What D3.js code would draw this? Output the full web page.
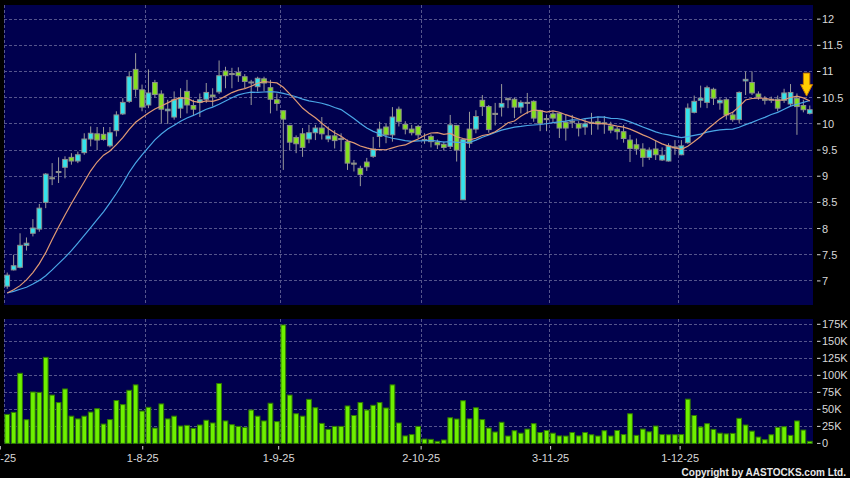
<!DOCTYPE html>
<html>
<head>
<meta http-equiv="Content-type" content="text/html; charset=utf-8">
<title>Daily candlestick chart</title>
<script type="text/javascript" src="https://cdn.jsdelivr.net/npm/d3@7"></script>
<style type="text/css">
  body { margin: 0; background: #000; }
  svg text { font-family: "Liberation Sans", Arial, sans-serif; }
</style>
</head>
<body>
<div id="chart"></div>
<script type="text/javascript">
// daily sessions, 2-7-25 .. 31-12-25 (126 bars)
var opens = [6.90,7.21,7.26,7.68,7.91,7.99,8.50,8.97,9.07,9.17,
  9.36,9.29,9.45,9.71,9.81,9.80,9.58,9.87,10.19,10.43,
  11.04,10.65,10.36,10.79,10.57,10.25,10.13,10.30,10.62,10.35,
  10.41,10.47,10.55,10.61,11.01,10.96,10.98,10.90,10.80,10.71,
  10.86,10.69,10.46,10.25,9.97,9.74,9.81,9.71,9.83,9.92,
  9.71,9.77,9.72,9.66,9.25,9.15,9.27,9.38,9.76,9.94,
  9.79,10.28,9.99,9.90,9.95,9.70,9.76,9.65,9.61,9.57,
  9.97,8.55,9.90,9.90,10.45,10.33,10.20,10.32,10.48,10.47,
  10.32,10.41,10.43,10.25,10.10,10.19,10.20,10.03,10.05,10.00,
  9.94,10.02,10.04,10.02,9.96,9.90,9.85,9.69,9.60,9.52,
  9.36,9.52,9.31,9.29,9.56,9.41,9.64,10.22,10.45,10.41,
  10.66,10.40,10.46,10.17,10.08,10.82,10.79,10.57,10.47,10.47,
  10.47,10.45,10.38,10.49,10.35,10.20];
var highs = [7.16,7.50,7.91,7.83,8.18,8.47,9.06,9.25,9.36,9.38,
  9.44,9.47,9.82,9.95,9.94,9.94,9.94,10.24,10.49,11.00,
  11.35,10.75,11.04,10.84,10.64,10.46,10.62,10.68,10.84,10.46,
  10.58,10.78,10.68,11.21,11.09,11.07,11.08,10.95,10.84,10.90,
  10.90,10.84,10.58,10.26,9.98,9.78,9.92,9.98,9.98,10.13,
  9.95,9.88,9.82,9.70,9.31,9.20,9.35,9.75,10.04,10.00,
  10.32,10.33,10.05,9.98,9.98,9.82,9.80,9.70,9.66,10.17,
  9.98,9.72,10.23,10.26,10.55,10.36,10.40,10.76,10.50,10.50,
  10.45,10.59,10.45,10.27,10.18,10.23,10.21,10.17,10.17,10.05,
  10.09,10.21,10.14,10.15,10.04,9.94,9.98,9.79,9.72,9.63,
  9.55,9.69,9.55,9.63,9.69,9.69,10.39,10.54,10.73,10.73,
  10.69,10.49,10.49,10.23,10.62,11.00,11.00,10.62,10.53,10.52,
  10.54,10.67,10.76,10.58,10.46,10.35];
var lows = [6.85,7.20,7.24,7.58,7.85,7.94,8.39,8.83,8.87,8.96,
  9.22,9.25,9.41,9.57,9.50,9.68,9.55,9.76,10.17,10.40,
  10.52,10.24,10.30,10.50,10.01,10.00,10.08,10.11,10.20,10.15,
  10.13,10.40,10.33,10.57,10.68,10.68,10.80,10.68,10.36,10.62,
  10.62,10.20,10.25,9.12,9.50,9.44,9.37,9.63,9.69,9.70,
  9.65,9.53,9.47,9.12,9.09,8.81,9.10,9.35,9.55,9.63,
  9.66,9.95,9.80,9.78,9.72,9.62,9.55,9.52,9.49,9.52,
  9.28,8.55,9.54,9.82,10.15,9.83,9.97,10.14,10.30,10.11,
  10.20,10.19,10.04,9.86,9.86,10.01,9.73,9.68,9.92,9.76,
  9.79,9.79,9.89,9.81,9.82,9.70,9.64,9.27,9.41,9.18,
  9.31,9.31,9.29,9.28,9.41,9.40,9.62,10.20,10.31,10.30,
  10.36,10.27,10.08,10.04,10.01,10.55,10.55,10.46,10.37,10.40,
  10.24,10.40,10.34,9.79,10.22,10.18];
var closes = [7.11,7.29,7.68,7.72,8.01,8.39,9.04,8.95,9.09,9.32,
  9.29,9.41,9.71,9.82,9.69,9.70,9.83,10.17,10.41,10.90,
  10.66,10.32,10.59,10.56,10.28,10.28,10.46,10.50,10.36,10.28,
  10.46,10.60,10.52,10.92,10.92,10.95,10.92,10.81,10.79,10.87,
  10.78,10.47,10.39,10.09,9.65,9.62,9.55,9.83,9.92,9.81,
  9.77,9.68,9.70,9.25,9.23,9.03,9.18,9.52,9.90,9.79,
  10.13,10.04,9.90,9.83,9.79,9.69,9.66,9.60,9.55,9.98,
  9.50,9.70,9.63,10.14,10.33,9.89,10.18,10.39,10.47,10.32,
  10.41,10.40,10.11,10.01,10.08,10.11,9.92,9.92,10.04,9.92,
  10.00,10.03,10.00,10.01,9.88,9.85,9.72,9.53,9.52,9.36,
  9.50,9.41,9.40,9.58,9.54,9.58,10.30,10.43,10.49,10.69,
  10.49,10.45,10.17,10.08,10.60,10.85,10.59,10.51,10.46,10.45,
  10.30,10.59,10.60,10.33,10.27,10.27];
// volume in thousands
var volumes = [42.6,45.6,103,34.8,75.5,75,126.4,71,60,80,
  40,36,40,46,51,28.4,35,63,57,78,
  86,47.5,53,22.5,58,36,40,25.5,26.5,22,
  27,34,30,88,33,27.5,25,23.5,49,40,
  33,59,32,174,71,43.6,40,64.7,52.4,29.4,
  20.6,25,25,55,41,60,49,56,60,52,
  86,30,11,13,25,6.4,5.9,3,5,37.7,
  35.8,62.7,36,52.4,35,22.5,16.7,31,10.8,18.6,
  15,21,29,16,19,15,11,10.8,16,11,
  16,12.7,10.8,18.6,10.8,19,13,43.6,11.8,21,
  17,25.5,13,12.7,12.7,13,65,41,24,29,
  20.6,15,14,14.7,36.8,27,18,9.3,5.4,12.7,
  23.5,24.5,11.8,33,19.6,3];

// moving averages: first values (need closes from before the window)
var ma10Head = [6.77,6.83,6.91,7.02,7.16,7.33,7.54,7.79,8.03];
var ma20Head = [6.77,6.80,6.84,6.88,6.94,7.01,7.10,7.21,7.33,7.45,
  7.58,7.72,7.87,8.02,8.17,8.32,8.49,8.67,8.86];

var dateLabels = ["2-7-25","1-8-25","1-9-25","2-10-25","3-11-25","1-12-25"];
var dateLabelIdx = [0,22,43,65,85,105];
var priceTicks = [7,7.5,8,8.5,9,9.5,10,10.5,11,11.5,12];
var volTicks = [0,25,50,75,100,125,150,175];
var arrowPrice = 10.53;

var width = 850, height = 478;
var left = 4, right = 813;
var priceTop = 5, priceBottom = 305;
var volTop = 319, volBottom = 444;

var svg = d3.select('#chart').append('svg')
  .attr('width', width).attr('height', height);
svg.append('rect').attr('width', width).attr('height', height).attr('fill', '#000');

var idx = d3.range(closes.length);
var x = d3.scaleBand().domain(idx).range([left, right])
  .paddingInner(0.27).paddingOuter(0.135);
var bw = x.bandwidth();
var cx = function(i) { return x(i) + bw / 2; };
var slot = function(i) { return x(i) - x.step() * x.paddingInner() / 2; };
// the date labels sit on their own, slightly shifted, scale in the original
var xLabel = d3.scaleLinear().domain([0, closes.length - 1]).range([0.3, 809.6]);

var y = d3.scaleLinear().domain([6.54, 12.27]).range([priceBottom, priceTop]);
var yv = d3.scaleLinear().domain([0, 182.8]).range([443.4, volTop]);

function sma(period, head) {
  return closes.map(function(c, i) {
    if (i < period - 1) return head[i];
    return d3.mean(closes.slice(i - period + 1, i + 1));
  });
}
var ma10 = sma(10, ma10Head);
var ma20 = sma(20, ma20Head);

var navy = '#00004e';
var gridColor = '#55558c';
var labelColor = '#d8d8d8';

// panels
svg.append('rect').attr('x', left).attr('y', priceTop)
  .attr('width', right - left).attr('height', priceBottom - priceTop).attr('fill', navy);
svg.append('rect').attr('x', left).attr('y', volTop)
  .attr('width', right - left).attr('height', volBottom - volTop).attr('fill', navy);

// grid
var grid = svg.append('g').attr('stroke', gridColor).attr('stroke-dasharray', '3,2')
  .attr('stroke-width', 1).attr('shape-rendering', 'crispEdges');
grid.selectAll('.hp').data(priceTicks).enter().append('line')
  .attr('x1', left).attr('x2', right)
  .attr('y1', function(d) { return y(d); }).attr('y2', function(d) { return y(d); });
grid.selectAll('.hv').data(volTicks.slice(1)).enter().append('line')
  .attr('x1', left).attr('x2', right)
  .attr('y1', function(d) { return yv(d); }).attr('y2', function(d) { return yv(d); });
grid.selectAll('.vp').data(dateLabelIdx).enter().append('line')
  .attr('x1', function(d) { return slot(d); }).attr('x2', function(d) { return slot(d); })
  .attr('y1', priceTop).attr('y2', priceBottom);
grid.selectAll('.vv').data(dateLabelIdx).enter().append('line')
  .attr('x1', function(d) { return slot(d); }).attr('x2', function(d) { return slot(d); })
  .attr('y1', volTop).attr('y2', volBottom);

// candles
var candles = svg.append('g');
candles.selectAll('line').data(idx).enter().append('line')
  .attr('x1', cx).attr('x2', cx)
  .attr('y1', function(i) { return y(highs[i]); })
  .attr('y2', function(i) { return y(lows[i]); })
  .attr('stroke', '#9a9a9a').attr('stroke-width', 1);
candles.selectAll('rect').data(idx).enter().append('rect')
  .attr('x', function(i) { return x(i); })
  .attr('width', bw)
  .attr('y', function(i) { return y(Math.max(opens[i], closes[i])); })
  .attr('height', function(i) { return Math.max(1, Math.abs(y(opens[i]) - y(closes[i]))); })
  .attr('fill', function(i) { return closes[i] >= opens[i] ? '#33e3ec' : '#84e01e'; })
  .attr('stroke', '#8e8e8e').attr('stroke-width', 1);

// moving averages
var line = d3.line().x(function(d, i) { return cx(i); }).y(function(d) { return y(d); });
svg.append('path').datum(ma20).attr('d', line)
  .attr('fill', 'none').attr('stroke', '#4aa6e6').attr('stroke-width', 1.2);
svg.append('path').datum(ma10).attr('d', line)
  .attr('fill', 'none').attr('stroke', '#e09a74').attr('stroke-width', 1.2);

// arrow marker on the latest bar
var ax = slot(closes.length - 1), ay = y(arrowPrice);
svg.append('path')
  .attr('d', 'M' + (ax - 3.2) + ',' + (ay - 23) + 'h6.4v11.5h2.8l-6,11.5l-6,-11.5h2.8z')
  .attr('fill', '#ffcc00').attr('stroke', '#c77800').attr('stroke-width', 1);

// volume bars
svg.append('g').selectAll('rect').data(idx).enter().append('rect')
  .attr('x', function(i) { return x(i); })
  .attr('width', bw)
  .attr('y', function(i) { return yv(volumes[i]); })
  .attr('height', function(i) { return yv(0) - yv(volumes[i]); })
  .attr('fill', '#6ef000').attr('stroke', '#2f7a00').attr('stroke-width', 1);

// right axes
var axisG = svg.append('g').attr('font-size', 11).attr('fill', labelColor);
function rightAxis(ticks, scale, fmt) {
  ticks.forEach(function(t) {
    axisG.append('line').attr('x1', 817).attr('x2', 820.5)
      .attr('y1', scale(t)).attr('y2', scale(t))
      .attr('stroke', labelColor).attr('stroke-width', 1);
    axisG.append('text').attr('x', 822).attr('y', scale(t)).attr('dy', '0.36em')
      .text(fmt(t));
  });
}
rightAxis(priceTicks, y, function(t) { return String(t); });
rightAxis(volTicks, yv, function(t) { return t === 0 ? '0' : t + 'K'; });

// date axis
dateLabelIdx.forEach(function(d, k) {
  var tx = xLabel(d);
  axisG.append('line').attr('x1', tx).attr('x2', tx).attr('y1', 446).attr('y2', 449.5)
    .attr('stroke', labelColor).attr('stroke-width', 1);
  axisG.append('text').attr('x', tx).attr('y', 462).attr('text-anchor', 'middle')
    .text(dateLabels[k]);
});

svg.append('text').attr('x', 846).attr('y', 475.5).attr('text-anchor', 'end')
  .attr('font-size', 10).attr('font-weight', 'bold').attr('fill', '#e8e8e8')
  .text('Copyright by AASTOCKS.com Ltd.');
</script>
</body>
</html>
